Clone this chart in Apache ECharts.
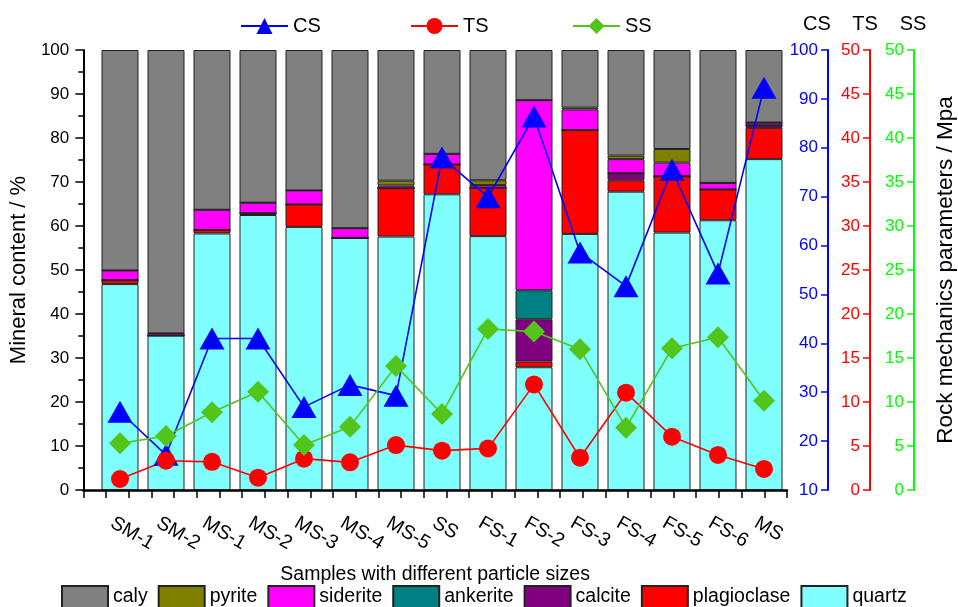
<!DOCTYPE html>
<html>
<head>
<meta charset="utf-8">
<script src="https://cdn.jsdelivr.net/npm/echarts@6/dist/echarts.min.js"></script>
<style>
html,body{margin:0;padding:0;background:#fff;}
#chart{width:958px;height:607px;}
</style>
</head>
<body>
<div id="chart"></div>
<script>
var categories = ['SM-1','SM-2','MS-1','MS-2','MS-3','MS-4','MS-5','SS','FS-1','FS-2','FS-3','FS-4','FS-5','FS-6','MS'];

var quartz      = [46.8, 35.1, 58.3, 62.5, 59.8, 57.3, 57.6, 67.2, 57.7, 27.9, 58.2, 67.8, 58.5, 61.3, 75.2];
var plagioclase = [0.9,  0,    0.8,  0.4,  5.1,  0,    11.0, 6.8,  11.0, 1.3,  23.6, 2.6,  12.8, 7.0,  7.1];
var calcite     = [0,    0,    0,    0,    0,    0,    0,    0,    0,    9.6,  0,    1.6,  0,    0,    0.6];
var ankerite    = [0,    0,    0,    0,    0,    0,    0,    0,    0,    6.6,  0,    0,    0,    0,    0];
var siderite    = [2.2,  0.5,  4.6,  2.4,  3.2,  2.2,  0.6,  2.4,  0.6,  43.2, 4.7,  3.2,  3.1,  1.5,  0.6];
var pyrite      = [0,    0,    0,    0,    0,    0,    1.1,  0,    1.1,  0,    0.4,  0.8,  3.1,  0,    0];
var caly        = [50.1, 64.4, 36.3, 34.7, 31.9, 40.5, 29.7, 23.6, 29.6, 11.4, 13.1, 24.0, 22.5, 30.2, 16.5];

var CS = [26.0, 17.2, 41.0, 41.0, 27.0, 31.5, 29.3, 78.0, 69.9, 86.4, 58.6, 51.7, 75.5, 54.3, 92.3];
var TS = [1.25, 3.33, 3.2, 1.4, 3.56, 3.14, 5.1, 4.47, 4.73, 12.0, 3.67, 11.06, 6.06, 3.98, 2.39];
var SS = [5.3, 6.14, 8.83, 11.17, 5.11, 7.2, 14.1, 8.64, 18.3, 18.0, 16.0, 7.08, 16.1, 17.35, 10.15];

var mineralTicks = [0, 100, 10];   // min, max, step of left axis
var csTicks = [10, 100, 10];
var tsTicks = [0, 50, 5];
var ssTicks = [0, 50, 5];

var FONT = '"Liberation Sans", Arial, sans-serif';
var chart = echarts.init(document.getElementById('chart'), null, {renderer:'canvas'});

var barDefs = [
  ['quartz', quartz, '#80FFFF'],
  ['plagioclase', plagioclase, '#FF0000'],
  ['calcite', calcite, '#800080'],
  ['ankerite', ankerite, '#008080'],
  ['siderite', siderite, '#FF00FF'],
  ['pyrite', pyrite, '#808000'],
  ['caly', caly, '#808080']
];
var series = barDefs.map(function(d){
  return {
    name: d[0], type: 'bar', stack: 'min', xAxisIndex: 1, yAxisIndex: 1,
    barWidth: 37, data: d[1],
    itemStyle: {color: d[2], borderColor: '#222', borderWidth: 1},
    emphasis: {disabled: true}
  };
});
series.push({
  name:'CS', type:'line', xAxisIndex:1, yAxisIndex:2, data: CS, symbol:'triangle', symbolSize:[25,22],
  lineStyle:{color:'#0000FF', width:1.6}, itemStyle:{color:'#0000FF'}, z:10
});
series.push({
  name:'TS', type:'line', xAxisIndex:1, yAxisIndex:3, data: TS, symbol:'circle', symbolSize:18,
  lineStyle:{color:'#FF0000', width:1.6}, itemStyle:{color:'#FF0000'}, z:10
});
series.push({
  name:'SS', type:'line', xAxisIndex:1, yAxisIndex:4, data: SS, symbol:'diamond', symbolSize:[22,22],
  lineStyle:{color:'#52C41A', width:1.6}, itemStyle:{color:'#52C41A'}, z:10
});

function rightAxis(t, color, offset, name, namePad){
  return {
    type:'value', gridIndex:1, position:'right', offset: offset, min:t[0], max:t[1], interval:t[2],
    name: name, nameLocation:'end', nameGap: 16,
    nameTextStyle:{color:'#000', fontSize:20, fontFamily:FONT, padding:namePad},
    axisLine:{show:true, lineStyle:{color:color, width:2}},
    axisTick:{show:true, inside:true, length:7, lineStyle:{color:color, width:1.5}},
    axisLabel:{inside:true, margin:10, color:color, fontSize:17, fontFamily:FONT},
    splitLine:{show:false}
  };
}

var gridTop = 50, gridBottom = 117, gridRight = 171;

var option = {
  animation:false,
  backgroundColor:'#fff',
  textStyle:{fontFamily:FONT},
  grid:[
    {left:74, right:gridRight, top:gridTop, bottom:gridBottom},
    {left:97, right:gridRight, top:gridTop, bottom:gridBottom},
    {left:71, right:gridRight+3, top:gridTop, bottom:gridBottom}
  ],
  legend:[
    {data:['CS'], left:235, top:11, itemWidth:47, itemHeight:20, textStyle:{fontSize:20, color:'#000', fontFamily:FONT}},
    {data:['TS'], left:405, top:11, itemWidth:47, itemHeight:20, textStyle:{fontSize:20, color:'#000', fontFamily:FONT}},
    {data:['SS'], left:567, top:11, itemWidth:47, itemHeight:20, textStyle:{fontSize:20, color:'#000', fontFamily:FONT}},
    {data:['caly','pyrite','siderite','ankerite','calcite','plagioclase','quartz'], left:56, top:580,
     icon:'rect', itemWidth:46, itemHeight:22, itemGap:10, textStyle:{fontSize:19.5, color:'#000', fontFamily:FONT}}
  ],
  xAxis:[
    {
      type:'value', gridIndex:0, min:0, max:15.5, interval:0.5,
      name:'Samples with different particle sizes', nameLocation:'middle', nameGap:75,
      nameTextStyle:{color:'#000', fontSize:19.5, fontFamily:FONT},
      axisLine:{show:true, lineStyle:{color:'#000', width:2.5}},
      axisTick:{show:true, length:8, lineStyle:{color:'#000', width:1.5}},
      axisLabel:{show:false},
      splitLine:{show:false}
    },
    {
      type:'category', gridIndex:1, data:categories, show:false, boundaryGap:true
    },
    {
      type:'value', gridIndex:2, min:0, max:15.5, interval:0.5,
      axisLine:{show:false}, axisTick:{show:false}, splitLine:{show:false},
      axisLabel:{
        rotate:-30, align:'left', verticalAlign:'top', margin:23, color:'#000', fontSize:19.5, fontFamily:FONT,
        showMinLabel:true, showMaxLabel:true, hideOverlap:false,
        formatter:function(v){
          var i = Math.round(v);
          if (Math.abs(v - i) > 1e-6 || i < 1 || i > categories.length) return '';
          return categories[i-1];
        }
      }
    }
  ],
  yAxis:[
    {
      type:'value', gridIndex:0, position:'left', min:mineralTicks[0], max:mineralTicks[1], interval:mineralTicks[2],
      name:'Mineral content / %', nameLocation:'middle', nameGap:50,
      nameTextStyle:{color:'#000', fontSize:22, fontFamily:FONT},
      axisLine:{show:true, lineStyle:{color:'#000', width:2}},
      axisTick:{show:true, length:8, lineStyle:{color:'#000', width:1.5}},
      minorTick:{show:true, splitNumber:2, length:5, lineStyle:{color:'#000', width:1.5}},
      axisLabel:{margin:14, color:'#000', fontSize:17, fontFamily:FONT},
      splitLine:{show:false}
    },
    {
      type:'value', gridIndex:1, min:mineralTicks[0], max:mineralTicks[1], interval:mineralTicks[2], show:false
    },
    rightAxis(csTicks, '#0000FF', 41, 'CS', [0,22,0,0]),
    rightAxis(tsTicks, '#FF0000', 83, 'TS', [0,10,0,0]),
    rightAxis(ssTicks, '#00FF00', 127, 'SS', [0,2,0,0]),
    {
      type:'value', gridIndex:2, min:mineralTicks[0], max:mineralTicks[1], show:false
    }
  ],
  graphic:[{
    type:'text', x:946, y:270, rotation:Math.PI/2,
    style:{text:'Rock mechanics parameters / Mpa', fill:'#000', font:'22.5px "Liberation Sans", Arial, sans-serif',
           textAlign:'center', textVerticalAlign:'middle'}
  }],
  series: series
};
chart.setOption(option);
</script>
</body>
</html>
